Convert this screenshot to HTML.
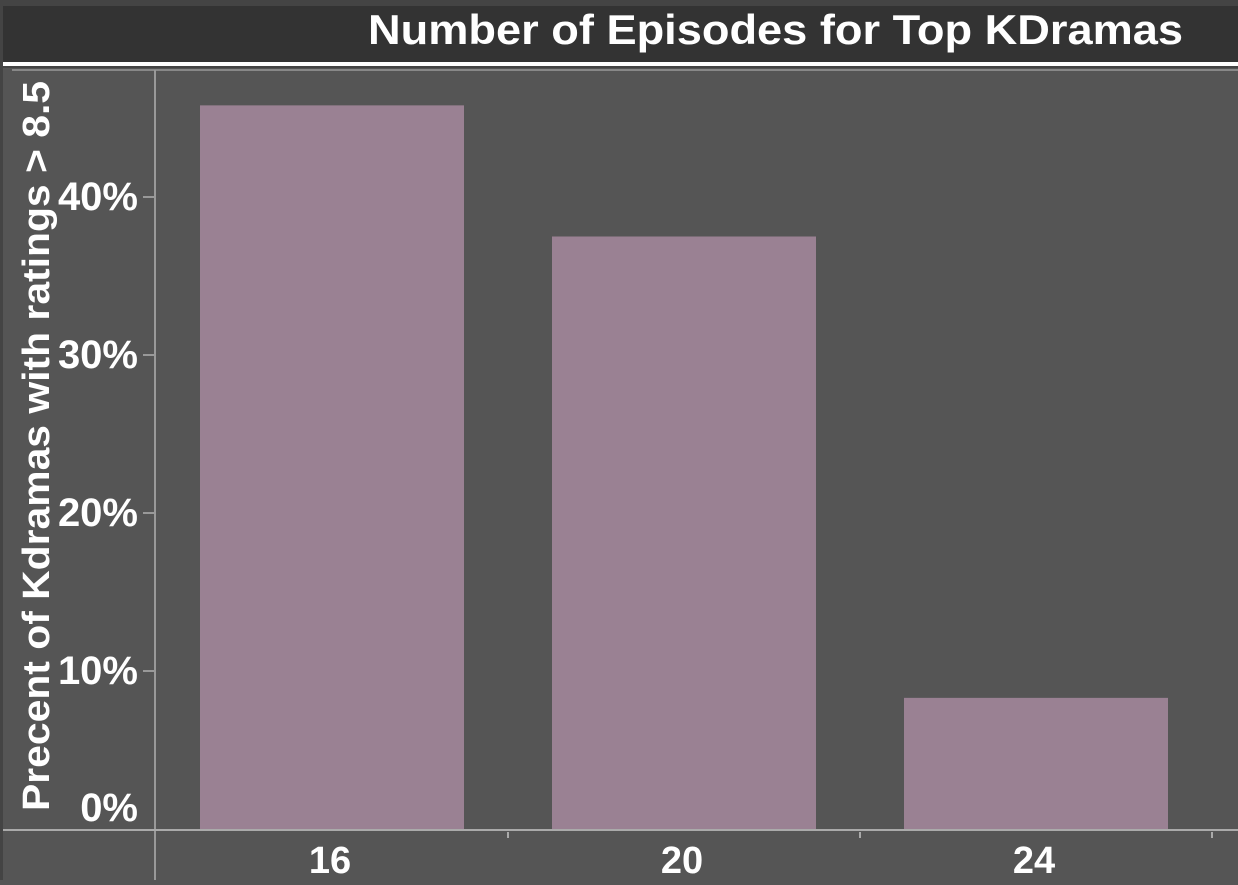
<!DOCTYPE html>
<html><head><meta charset="utf-8"><style>
body{margin:0;width:1238px;height:880px;background:#555;overflow:hidden;font-family:"Liberation Sans",sans-serif}
</style></head><body>
<svg width="1238" height="880">
<rect x="0" y="0" width="1238" height="880" fill="#444"/>
<rect x="3" y="6" width="1235" height="56" fill="#333"/>
<text x="1183" y="44" text-anchor="end" fill="#fff" font-size="42" font-weight="bold" textLength="815" lengthAdjust="spacingAndGlyphs">Number of Episodes for Top KDramas</text>
<rect x="3" y="62" width="1235" height="4" fill="#fff"/>
<rect x="3" y="68" width="1235" height="812" fill="#555"/>
<line x1="12" y1="70" x2="1238" y2="70" stroke="#888" stroke-width="2"/>
<line x1="155" y1="70" x2="155" y2="880" stroke="#999" stroke-width="2"/>
<g id="bars"></g>
<line x1="3" y1="830" x2="1238" y2="830" stroke="#aaa" stroke-width="2"/>
<g id="axes"></g>
<text transform="translate(49,446) rotate(-90)" text-anchor="middle" fill="#fff" font-size="38" font-weight="bold" textLength="730" lengthAdjust="spacingAndGlyphs">Precent of Kdramas with ratings &gt; 8.5</text>
</svg>
<script>
const categories=["16","20","24"];
const values=[45.8,37.5,8.3];
const yTicks=[0,10,20,30,40];
const ns="http://www.w3.org/2000/svg";
const y0=829, pxPer=15.8, bandX0=156, band=352, pad=44;
const y=v=>y0-v*pxPer;
const bx=i=>bandX0+i*band;
const bars=document.getElementById('bars'), axes=document.getElementById('axes');
function mk(tag,attrs,parent){const e=document.createElementNS(ns,tag);for(const k in attrs)e.setAttribute(k,attrs[k]);parent.appendChild(e);return e;}
categories.forEach((c,i)=>{
  const r=mk('rect',{x:bx(i)+pad,y:y(values[i]),width:band-2*pad,height:y0-y(values[i]),fill:'#9a8193'},bars);
  
  
  const t=mk('text',{x:bx(i)+band/2-2,y:873,'text-anchor':'middle',fill:'#fff','font-size':'38','font-weight':'bold'},axes);
  t.textContent=c;
  
  
  const tk=mk('line',{x1:bx(i+1),y1:832,x2:bx(i+1),y2:838,stroke:'#aaa','stroke-width':'2'},axes);
  
  
});
yTicks.forEach(v=>{
  const t=mk('text',{x:138,y:y(v)+(v===0?-8:13),'text-anchor':'end',fill:'#fff','font-size':'40','font-weight':'bold'},axes);
  t.textContent=v+'%';
  
  
  if(v>0){const l=mk('line',{x1:143,y1:y(v),x2:154,y2:y(v),stroke:'#999','stroke-width':'2'},axes);
  
  }
});
</script>
</body></html>
